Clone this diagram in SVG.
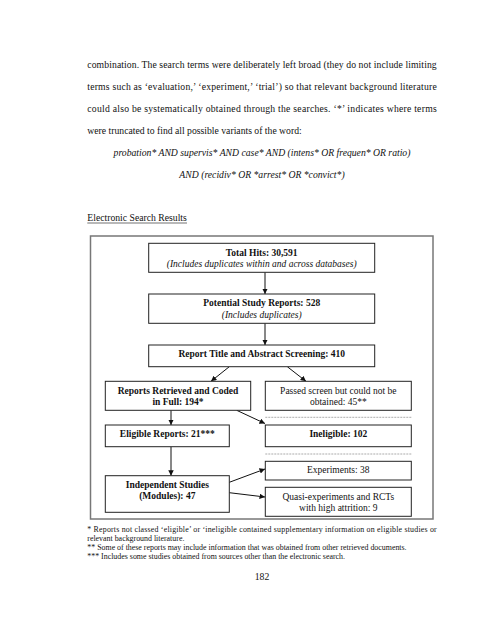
<svg xmlns="http://www.w3.org/2000/svg" width="495" height="640" viewBox="0 0 495 640">
<style>
text{font-family:"Liberation Serif","Times New Roman",serif;fill:#111}
.p{font-size:9.7px}
.it{font-style:italic}
.b{font-weight:bold}
.d{font-size:9.5px;text-anchor:middle}
.fn{font-size:7.9px}
.box{fill:#fff;stroke:#222;stroke-width:1}
.dash{stroke:#888;stroke-width:0.7;stroke-dasharray:2 1}
.con{stroke:#111;stroke-width:1;fill:none;marker-end:url(#ah)}
</style>
<defs>
<marker id="ah" viewBox="0 0 10 10" refX="10" refY="5" markerWidth="5.5" markerHeight="5.5" orient="auto" markerUnits="userSpaceOnUse">
<path d="M0,0 L10,5 L0,10 z" fill="#111"/>
</marker>
</defs>
<rect width="495" height="640" fill="#fff"/>
<g id="paragraph">
<text class="p" x="87.3" y="67.5" textLength="349.4" lengthAdjust="spacing">combination.  The search terms were deliberately left broad (they do not include limiting</text>
<text class="p" x="87.3" y="89.6" textLength="349.4" lengthAdjust="spacing">terms such as ‘evaluation,’ ‘experiment,’ ‘trial’) so that relevant background literature</text>
<text class="p" x="87.3" y="111.7" textLength="349.4" lengthAdjust="spacing">could also be systematically obtained through the searches.  ‘*’ indicates where terms</text>
<text class="p" x="87.3" y="133.8">were truncated to find all possible variants of the word:</text>
<text class="p it" x="262" y="156" text-anchor="middle">probation* AND supervis* AND case* AND (intens* OR frequen* OR ratio)</text>
<text class="p it" x="262" y="178.2" text-anchor="middle">AND (recidiv* OR *arrest* OR *convict*)</text>
<text class="p" x="87.3" y="221.3">Electronic Search Results</text>
<line x1="87.3" y1="223" x2="187" y2="223" stroke="#111" stroke-width="0.6"/>
</g>
<rect id="frame" x="90.5" y="236" width="342.5" height="283" fill="none" stroke="#777" stroke-width="1.5"/>
<g id="dashes">
<line class="dash" x1="265.3" y1="417.3" x2="411.3" y2="417.3"/>
<line class="dash" x1="265.3" y1="454" x2="411.3" y2="454"/>
</g>
<g id="connectors">
<line class="con" x1="265" y1="272.3" x2="265" y2="294"/>
<line class="con" x1="265" y1="323.3" x2="265" y2="345"/>
<line class="con" x1="229.3" y1="366.7" x2="211" y2="381.3"/>
<line class="con" x1="287.3" y1="366.7" x2="306" y2="381.3"/>
<line class="con" x1="171" y1="410.3" x2="171" y2="425"/>
<line class="con" x1="236.7" y1="410.3" x2="265" y2="423.5"/>
<line class="con" x1="171" y1="446.7" x2="171" y2="475.7"/>
<line class="con" x1="229.3" y1="482.3" x2="265" y2="469"/>
<line class="con" x1="229.3" y1="492.7" x2="265" y2="497"/>
</g>
<g id="total">
<rect class="box" x="148.7" y="243.3" width="226" height="29"/>
<text class="d b" x="261.7" y="255.6">Total Hits: 30,591</text>
<text class="d it" x="261.7" y="266.8">(Includes duplicates within and across databases)</text>
</g>
<g id="potential">
<rect class="box" x="148.7" y="294" width="226" height="29.3"/>
<text class="d b" x="261.7" y="306.4">Potential Study Reports: 528</text>
<text class="d it" x="261.7" y="317.6">(Includes duplicates)</text>
</g>
<g id="screening">
<rect class="box" x="148.7" y="345" width="226" height="21.7"/>
<text class="d b" x="261.7" y="357.4">Report Title and Abstract Screening: 410</text>
</g>
<g id="retrieved">
<rect class="box" x="105.3" y="381.3" width="145.4" height="29"/>
<text class="d b" x="178" y="393.6">Reports Retrieved and Coded</text>
<text class="d b" x="178" y="404.6">in Full: 194*</text>
</g>
<g id="passed">
<rect class="box" x="265.3" y="381.3" width="146" height="29"/>
<text class="d" x="338.3" y="393.6">Passed screen but could not be</text>
<text class="d" x="338.3" y="404.6">obtained: 45**</text>
</g>
<g id="eligible">
<rect class="box" x="105.3" y="425" width="124" height="21.7"/>
<text class="d b" x="167.3" y="437.2">Eligible Reports: 21***</text>
</g>
<g id="ineligible">
<rect class="box" x="265.3" y="425" width="146" height="21.7"/>
<text class="d b" x="338.3" y="437.2">Ineligible: 102</text>
</g>
<g id="experiments">
<rect class="box" x="265.3" y="461.3" width="146" height="18.7"/>
<text class="d" x="338.3" y="473.4">Experiments: 38</text>
</g>
<g id="independent">
<rect class="box" x="105.3" y="475.7" width="124" height="36.6"/>
<text class="d b" x="167.3" y="488.4">Independent Studies</text>
<text class="d b" x="167.3" y="499.4">(Modules): 47</text>
</g>
<g id="quasi">
<rect class="box" x="265.3" y="487.3" width="146" height="29"/>
<text class="d" x="338.3" y="500">Quasi-experiments and RCTs</text>
<text class="d" x="338.3" y="510.8">with high attrition: 9</text>
</g>
<g id="footnotes">
<text class="fn" x="87.3" y="531.5" textLength="349.4" lengthAdjust="spacing">* Reports not classed ‘eligible’ or ‘ineligible contained supplementary information on eligible studies or</text>
<text class="fn" x="87.3" y="540.5">relevant background literature.</text>
<text class="fn" x="87.3" y="550">** Some of these reports may include information that was obtained from other retrieved documents.</text>
<text class="fn" x="87.3" y="559">*** Includes some studies obtained from sources other than the electronic search.</text>
</g>
<text class="p" x="262" y="580" text-anchor="middle">182</text>
</svg>
